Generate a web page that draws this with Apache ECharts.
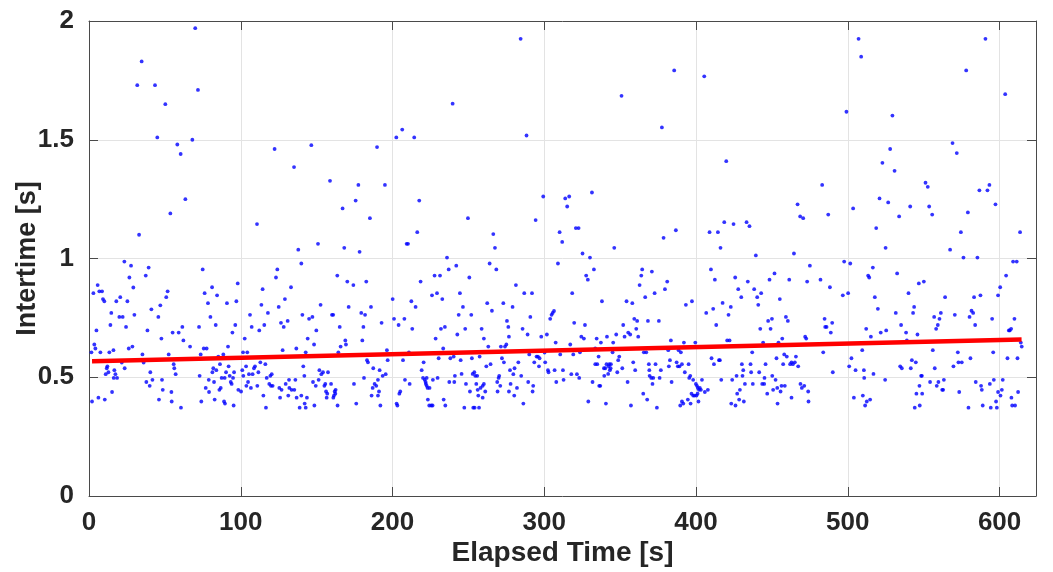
<!DOCTYPE html>
<html lang="en">
<head>
    <meta charset="UTF-8">
    <title>intertime</title>
    <script src="https://cdn.jsdelivr.net/npm/echarts@6/dist/echarts.min.js"></script>
    <style>
        html, body { margin: 0; padding: 0; background: #fff; }
    </style>
</head>
<body>
<div id="main" style="width: 1053px;height:572px;"></div>
</body>

<script type="text/javascript">

    // [elapsed time (s), intertime (s)], in bands of ~100 s
    var pts0to100 = [
        [70.0, 1.97], [34.7, 1.83], [31.8, 1.73], [43.5, 1.73], [71.8, 1.71], [50.3, 1.65], [45.0, 1.51], [68.1, 1.50],
        [58.2, 1.48], [60.4, 1.44], [63.5, 1.25], [53.6, 1.19], [33.0, 1.10],
        [23.3, 0.987], [27.7, 0.970], [39.3, 0.962], [26.6, 0.920], [37.4, 0.928], [5.7, 0.888], [2.9, 0.854], [6.8, 0.862],
        [8.6, 0.862], [29.2, 0.878], [9.2, 0.829], [10.1, 0.820], [20.6, 0.837], [18.0, 0.820], [25.3, 0.820], [51.8, 0.862],
        [50.9, 0.837], [47.0, 0.803], [41.1, 0.786], [14.7, 0.771], [29.9, 0.763], [20.0, 0.754], [22.2, 0.754], [45.7, 0.754],
        [14.1, 0.720], [24.4, 0.712], [4.9, 0.697], [38.5, 0.697], [55.1, 0.688], [59.1, 0.688], [61.5, 0.712], [47.7, 0.663],
        [62.2, 0.655], [3.5, 0.638], [66.6, 0.629], [4.2, 0.621], [26.2, 0.621], [28.6, 0.629], [1.6, 0.605], [7.5, 0.605],
        [13.4, 0.605], [16.1, 0.614], [35.2, 0.596], [52.5, 0.596], [36.0, 0.562], [21.6, 0.562], [11.7, 0.538], [12.1, 0.546],
        [16.7, 0.530], [12.8, 0.521], [11.0, 0.513], [17.4, 0.513], [23.5, 0.538], [16.3, 0.497], [18.5, 0.497], [40.4, 0.521],
        [41.8, 0.489], [37.8, 0.480], [40.0, 0.464], [48.1, 0.489], [48.6, 0.447], [55.8, 0.555], [56.2, 0.538], [57.1, 0.513],
        [54.3, 0.438], [54.5, 0.398], [46.1, 0.406], [60.6, 0.372], [15.2, 0.438], [6.2, 0.414], [10.4, 0.406], [2.0, 0.398],
        [74.9, 0.954], [76.2, 0.854], [81.1, 0.879], [84.4, 0.845], [78.4, 0.812], [90.9, 0.812], [98.0, 0.895], [97.1, 0.820],
        [80.0, 0.754], [83.5, 0.720], [96.4, 0.720], [94.5, 0.688], [72.5, 0.712], [75.6, 0.621], [77.5, 0.621], [91.6, 0.629],
        [88.5, 0.596], [85.2, 0.587], [73.6, 0.596], [86.3, 0.555], [92.0, 0.546], [81.9, 0.538], [83.9, 0.530], [81.3, 0.521],
        [90.3, 0.521], [95.6, 0.521], [72.9, 0.506], [78.9, 0.489], [87.4, 0.497], [89.4, 0.497], [92.7, 0.506], [93.4, 0.480],
        [94.0, 0.472], [94.9, 0.497], [82.4, 0.480], [76.9, 0.455], [79.1, 0.438], [82.8, 0.406], [85.9, 0.447], [86.8, 0.455],
        [89.0, 0.398], [89.6, 0.389], [95.3, 0.381], [74.0, 0.398], [98.4, 0.447]
    ];

    var pts100to200 = [
        [202.5, 1.51], [122.3, 1.461], [146.5, 1.477], [189.8, 1.469], [135.1, 1.385], [158.8, 1.327], [177.5, 1.31],
        [195.0, 1.31], [175.7, 1.244], [167.1, 1.211], [185.1, 1.17], [110.7, 1.145], [150.9, 1.062], [137.9, 1.037], [168.2, 1.045],
        [178.3, 1.028], [139.9, 0.979], [124.1, 0.954], [123.2, 0.920], [163.6, 0.928], [170.2, 0.903], [174.2, 0.888], [182.7, 0.903],
        [133.1, 0.879], [114.4, 0.871], [129.1, 0.829], [113.6, 0.805], [125.0, 0.796], [152.6, 0.805], [171.1, 0.796], [185.8, 0.796],
        [200.1, 0.829], [117.9, 0.771], [106.1, 0.763], [140.6, 0.763], [160.1, 0.763], [160.9, 0.763], [179.4, 0.771], [181.9, 0.763],
        [201.0, 0.746], [147.2, 0.754], [145.0, 0.746], [130.9, 0.737], [126.5, 0.729], [115.5, 0.720], [107.2, 0.712], [128.3, 0.712],
        [165.2, 0.712], [180.8, 0.712], [192.8, 0.729], [204.0, 0.720], [112.2, 0.697], [149.8, 0.697], [102.6, 0.663], [144.1, 0.663],
        [168.9, 0.655], [180.1, 0.655], [148.3, 0.638], [169.3, 0.638], [165.8, 0.629], [136.6, 0.621], [127.6, 0.614], [196.3, 0.614],
        [101.5, 0.605], [104.3, 0.605], [142.8, 0.605], [164.3, 0.605], [112.9, 0.563], [116.2, 0.555], [183.2, 0.572], [183.8, 0.563],
        [196.8, 0.572], [103.5, 0.546], [109.4, 0.546], [108.7, 0.538], [101.0, 0.530], [141.2, 0.546], [151.8, 0.530], [154.2, 0.521],
        [157.5, 0.521], [153.1, 0.513], [187.3, 0.538], [191.5, 0.530], [193.5, 0.506], [195.5, 0.513], [111.6, 0.521], [105.4, 0.513],
        [107.8, 0.513], [101.7, 0.506], [120.4, 0.513], [119.5, 0.506], [117.1, 0.497], [141.9, 0.506], [181.2, 0.497], [131.8, 0.489],
        [136.0, 0.489], [151.3, 0.489], [190.4, 0.489], [104.8, 0.480], [147.6, 0.480], [118.8, 0.472], [129.6, 0.472], [155.7, 0.472],
        [159.5, 0.472], [174.6, 0.472], [188.2, 0.472], [103.7, 0.464], [110.9, 0.464], [119.9, 0.464], [121.0, 0.464], [149.4, 0.464],
        [155.1, 0.464], [189.3, 0.464], [106.7, 0.455], [125.4, 0.455], [132.0, 0.455], [186.9, 0.455], [126.9, 0.447], [133.5, 0.447],
        [135.3, 0.447], [162.5, 0.447], [100.2, 0.440], [156.2, 0.440], [161.9, 0.440], [191.1, 0.440], [157.0, 0.431], [162.3, 0.431],
        [204.5, 0.431], [205.1, 0.440], [114.9, 0.423], [131.3, 0.423], [139.9, 0.423], [161.4, 0.423], [186.2, 0.423], [190.4, 0.423],
        [125.9, 0.414], [136.8, 0.414], [143.6, 0.414], [156.6, 0.414], [161.0, 0.414], [176.1, 0.389], [202.7, 0.389], [203.2, 0.381],
        [142.1, 0.389], [116.6, 0.372], [138.8, 0.372], [142.8, 0.372], [148.5, 0.381], [163.8, 0.381], [192.0, 0.381]
    ];

    var pts200to300 = [
        [284.4, 1.925], [239.6, 1.652], [206.4, 1.543], [214.3, 1.510], [288.3, 1.518], [299.3, 1.261], [217.6, 1.244],
        [249.7, 1.170], [294.3, 1.162], [216.3, 1.111], [209.3, 1.062], [210.2, 1.062], [266.4, 1.103], [267.5, 1.045], [310.1, 1.111],
        [235.9, 1.004], [242.0, 0.970], [264.0, 0.979], [268.4, 0.954], [237.0, 0.954], [227.7, 0.928], [231.3, 0.928], [250.6, 0.920],
        [218.5, 0.903], [281.3, 0.888], [244.4, 0.854], [286.8, 0.854], [291.9, 0.854], [226.0, 0.845], [229.3, 0.854], [232.8, 0.829],
        [212.4, 0.820], [262.4, 0.812], [273.0, 0.812], [215.2, 0.796], [246.4, 0.796], [279.1, 0.796], [265.5, 0.780], [243.6, 0.763],
        [251.9, 0.763], [290.8, 0.754], [207.8, 0.746], [275.4, 0.737], [276.3, 0.712], [234.5, 0.712], [231.9, 0.704], [213.0, 0.704],
        [247.9, 0.704], [258.7, 0.704], [285.7, 0.704], [242.7, 0.680], [289.0, 0.680], [276.7, 0.671], [298.0, 0.671], [301.7, 0.680],
        [306.4, 0.779], [305.5, 0.771], [304.8, 0.763], [303.9, 0.746], [309.0, 0.979], [228.4, 0.663], [260.2, 0.663], [307.5, 0.646],
        [263.1, 0.629], [271.4, 0.629], [274.1, 0.629], [275.0, 0.638], [233.4, 0.621], [210.8, 0.605], [240.3, 0.587], [230.4, 0.580],
        [238.1, 0.580], [252.3, 0.580], [257.4, 0.587], [244.9, 0.572], [272.1, 0.580], [273.4, 0.563], [290.1, 0.596], [294.9, 0.587],
        [295.8, 0.587], [296.9, 0.580], [300.2, 0.604], [300.6, 0.563], [293.4, 0.563], [282.9, 0.563], [206.9, 0.572], [220.5, 0.563],
        [264.6, 0.555], [261.8, 0.546], [280.4, 0.538], [277.4, 0.530], [219.2, 0.530], [296.5, 0.546], [302.4, 0.530], [302.8, 0.521],
        [306.8, 0.530], [253.9, 0.521], [252.8, 0.514], [254.5, 0.506], [255.8, 0.506], [245.5, 0.514], [241.1, 0.506], [279.6, 0.513],
        [284.8, 0.506], [270.3, 0.506], [269.9, 0.497], [220.1, 0.497], [222.5, 0.497], [229.7, 0.497], [208.2, 0.489], [221.2, 0.489],
        [226.6, 0.489], [221.8, 0.480], [237.4, 0.480], [240.7, 0.480], [269.0, 0.480], [259.4, 0.464], [260.2, 0.472], [255.2, 0.472],
        [248.4, 0.472], [277.8, 0.472], [289.4, 0.480], [292.7, 0.464], [307.9, 0.480], [211.3, 0.472], [222.0, 0.472], [222.5, 0.464],
        [223.1, 0.455], [224.4, 0.455], [258.0, 0.455], [271.0, 0.464], [282.0, 0.455], [256.1, 0.447], [261.1, 0.440], [269.2, 0.440],
        [292.3, 0.440], [251.0, 0.440], [276.7, 0.440], [256.5, 0.423], [280.2, 0.423], [259.4, 0.414], [223.3, 0.406], [233.7, 0.406],
        [286.2, 0.389], [224.2, 0.381], [225.5, 0.381], [226.4, 0.381], [234.8, 0.381], [247.3, 0.372], [253.2, 0.372], [254.1, 0.372],
        [257.0, 0.372], [310.5, 0.596]
    ];

    var pts300to400 = [
        [385.6, 1.792], [405.4, 1.767], [350.9, 1.685], [377.5, 1.552], [331.4, 1.278], [313.8, 1.253], [316.4, 1.261],
        [315.1, 1.219], [320.8, 1.128], [322.6, 1.128], [311.8, 1.070], [386.7, 1.119], [378.6, 1.087], [346.1, 1.045],
        [408.9, 1.111], [414.4, 1.111],
        [325.2, 1.021], [330.1, 1.004], [332.7, 0.954], [327.6, 0.928], [328.7, 0.911], [364.5, 0.954], [370.9, 0.945], [363.9, 0.928],
        [381.0, 0.903], [362.8, 0.888], [379.5, 0.871], [318.4, 0.854], [372.7, 0.854], [366.5, 0.837], [338.0, 0.820], [354.2, 0.820],
        [358.0, 0.812], [397.3, 0.820], [393.3, 0.805], [409.8, 0.954], [412.4, 0.911], [411.3, 0.788], [406.7, 0.771], [413.3, 0.720],
        [415.1, 0.572], [410.2, 0.580], [411.8, 0.555], [407.8, 0.447], [405.8, 0.438], [403.9, 0.489],
        [319.7, 0.729], [326.8, 0.720], [359.3, 0.746], [361.2, 0.737], [368.3, 0.737], [375.5, 0.737], [352.0, 0.720], [360.6, 0.704],
        [355.3, 0.688], [356.6, 0.680], [352.9, 0.671], [347.4, 0.680], [361.9, 0.671], [341.3, 0.671], [324.4, 0.671], [326.1, 0.663],
        [334.5, 0.663], [337.3, 0.646], [345.4, 0.646], [383.4, 0.655], [392.0, 0.646], [399.5, 0.646], [317.1, 0.638], [333.6, 0.622],
        [323.5, 0.605], [319.1, 0.596], [345.0, 0.605], [365.6, 0.605], [367.2, 0.605], [381.7, 0.614], [388.5, 0.614], [390.0, 0.605],
        [349.4, 0.587], [335.8, 0.587], [348.7, 0.572], [358.6, 0.563], [382.8, 0.572], [368.9, 0.555], [373.3, 0.555], [387.2, 0.563],
        [390.7, 0.555], [395.1, 0.555], [333.6, 0.555], [334.9, 0.555], [341.0, 0.555], [342.8, 0.555], [343.9, 0.555], [339.3, 0.538],
        [340.2, 0.538], [342.4, 0.546], [343.7, 0.538], [382.1, 0.546], [388.0, 0.546], [389.1, 0.546], [351.4, 0.538], [343.2, 0.530],
        [359.9, 0.530], [369.2, 0.530], [376.8, 0.530], [312.3, 0.530], [348.1, 0.521], [392.6, 0.521], [342.1, 0.514], [317.8, 0.513],
        [321.5, 0.513], [339.5, 0.506], [369.4, 0.506], [370.5, 0.497], [371.8, 0.497], [376.0, 0.497], [395.5, 0.497], [396.2, 0.506],
        [312.7, 0.489], [323.0, 0.497], [398.1, 0.489], [331.8, 0.480], [354.9, 0.480], [383.9, 0.480], [371.3, 0.472], [399.9, 0.472],
        [400.6, 0.464], [401.2, 0.455], [402.5, 0.455], [401.9, 0.447], [403.2, 0.447], [336.2, 0.464], [336.9, 0.464], [365.2, 0.431],
        [397.0, 0.431], [398.1, 0.423], [399.0, 0.423], [400.3, 0.423], [401.0, 0.431], [367.8, 0.406], [394.6, 0.406], [401.6, 0.398],
        [390.7, 0.398], [391.6, 0.389], [396.4, 0.389], [389.6, 0.381], [329.0, 0.398], [340.6, 0.389], [357.1, 0.381], [374.2, 0.372]
    ];

    var pts400to500 = [
        [507.1, 1.925], [508.8, 1.850], [499.1, 1.618], [419.9, 1.410], [483.1, 1.310], [466.9, 1.228], [503.5, 1.211],
        [468.6, 1.177], [470.6, 1.170], [487.1, 1.185], [418.6, 1.153], [424.7, 1.145], [433.3, 1.153], [435.2, 1.136], [416.1, 1.045],
        [439.4, 1.013], [464.5, 1.021], [497.6, 0.987], [501.6, 0.979], [475.0, 0.970], [513.4, 0.928], [514.1, 0.920], [425.8, 0.920],
        [451.7, 0.937], [448.4, 0.911], [434.1, 0.903], [461.4, 0.911], [473.2, 0.903], [482.0, 0.911], [488.2, 0.879], [427.8, 0.871],
        [438.3, 0.871], [442.9, 0.854], [440.3, 0.837], [429.8, 0.837], [496.7, 0.845], [500.2, 0.854], [417.5, 0.813], [422.9, 0.796],
        [441.0, 0.805], [455.2, 0.829], [421.4, 0.763], [459.2, 0.754], [460.5, 0.737], [447.5, 0.737], [450.0, 0.746], [484.7, 0.746],
        [489.7, 0.729], [485.1, 0.712], [486.0, 0.712], [488.8, 0.688], [442.3, 0.704], [449.1, 0.704], [512.1, 0.704], [471.9, 0.671],
        [472.6, 0.663], [456.8, 0.663], [420.5, 0.655], [422.1, 0.655], [444.2, 0.646], [454.3, 0.646], [437.0, 0.605], [483.8, 0.605],
        [509.5, 0.614], [415.7, 0.572], [453.0, 0.580], [458.1, 0.596], [459.8, 0.587], [465.8, 0.587], [462.9, 0.563], [462.0, 0.555],
        [463.8, 0.555], [465.1, 0.563], [467.3, 0.546], [457.4, 0.555], [445.8, 0.555], [430.2, 0.555], [435.9, 0.555], [502.4, 0.580],
        [500.9, 0.546], [431.1, 0.530], [505.1, 0.530], [510.6, 0.530], [436.3, 0.521], [441.6, 0.521], [450.2, 0.506], [490.1, 0.521],
        [426.7, 0.506], [430.6, 0.506], [445.1, 0.497], [510.8, 0.497], [416.6, 0.489], [423.8, 0.489], [452.4, 0.489], [432.2, 0.472],
        [437.4, 0.472], [443.6, 0.472], [444.9, 0.472], [468.8, 0.472], [456.3, 0.464], [458.5, 0.464], [453.5, 0.455], [469.7, 0.455],
        [471.3, 0.464], [450.8, 0.447], [428.9, 0.447], [446.9, 0.431], [455.7, 0.440], [473.9, 0.440], [427.1, 0.431], [462.9, 0.414],
        [428.4, 0.406], [431.5, 0.398], [474.1, 0.398], [504.0, 0.414], [509.9, 0.423], [512.5, 0.398], [511.4, 0.381], [423.2, 0.389],
        [426.0, 0.381], [453.7, 0.389]
    ];

    var pts500to615 = [
        [590.7, 1.925], [578.0, 1.792], [603.7, 1.692], [529.4, 1.602], [569.0, 1.486], [527.9, 1.461], [571.8, 1.444],
        [522.8, 1.403], [530.8, 1.369], [551.2, 1.319], [552.7, 1.302], [593.3, 1.310], [586.7, 1.287], [592.0, 1.287], [520.9, 1.253],
        [526.6, 1.236], [541.1, 1.219], [553.6, 1.219], [597.3, 1.228], [533.8, 1.177], [555.6, 1.185], [579.1, 1.194], [518.7, 1.128],
        [574.5, 1.111], [613.5, 1.111], [524.9, 1.045], [567.4, 1.037],
        [576.2, 1.004], [585.4, 1.004], [608.9, 0.987], [611.3, 0.987], [516.5, 0.962], [532.5, 0.937], [604.3, 0.928], [546.8, 0.895],
        [550.1, 0.903], [600.4, 0.879], [540.0, 0.854], [564.1, 0.837], [583.2, 0.837], [587.4, 0.845], [599.0, 0.845], [517.8, 0.837],
        [543.7, 0.796], [519.8, 0.788], [531.6, 0.771], [543.0, 0.771], [561.3, 0.771], [581.5, 0.780], [582.6, 0.771], [570.5, 0.763],
        [556.9, 0.754], [580.2, 0.754], [560.4, 0.746], [595.1, 0.746], [609.8, 0.746], [535.1, 0.720], [559.3, 0.720], [583.9, 0.720],
        [558.2, 0.704], [606.1, 0.697], [606.7, 0.697], [607.6, 0.704], [521.7, 0.688], [525.3, 0.697], [538.4, 0.688], [545.9, 0.680],
        [515.2, 0.671], [538.9, 0.655], [556.0, 0.614], [572.5, 0.605], [595.8, 0.605], [614.0, 0.646], [614.6, 0.629], [542.2, 0.572],
        [544.8, 0.563], [572.9, 0.563], [575.1, 0.563], [580.8, 0.580], [605.2, 0.580], [611.8, 0.580], [534.5, 0.546], [535.6, 0.538],
        [541.5, 0.538], [557.3, 0.538], [569.6, 0.546], [516.9, 0.514], [548.3, 0.506], [548.8, 0.506], [524.6, 0.489], [563.3, 0.489],
        [596.2, 0.489], [602.1, 0.489], [554.2, 0.480], [559.7, 0.480], [584.3, 0.480], [587.8, 0.464], [593.6, 0.472], [558.6, 0.464],
        [547.2, 0.464], [562.2, 0.447], [562.8, 0.447], [588.3, 0.447], [601.5, 0.447], [599.0, 0.438], [573.4, 0.438], [545.2, 0.431],
        [549.0, 0.431], [612.2, 0.438], [600.6, 0.423], [607.8, 0.414], [514.7, 0.406], [597.7, 0.398], [547.4, 0.381], [544.1, 0.372],
        [579.5, 0.372], [588.9, 0.381], [594.2, 0.372], [598.2, 0.372], [608.3, 0.381], [610.2, 0.381]
    ];

    // least-squares trend line, end points
    var fitTime = [2, 614.5];
    var fitInter = [0.567, 0.659];

    var xTicks = [0, 100, 200, 300, 400, 500, 600];

    var scatterData = pts0to100.concat(pts100to200, pts200to300, pts300to400, pts400to500, pts500to615);
    var fitData = [[fitTime[0], fitInter[0]], [fitTime[1], fitInter[1]]];

    var font = 'Liberation Sans';
    var boxColor = '#4a4a4a';
    var txtColor = '#262626';

    var boxAxis = function (extra) {
        var a = {
            type: 'value',
            axisLine: {show: true, onZero: false, lineStyle: {color: boxColor, width: 1}},
            axisTick: {show: true, inside: true, length: 9, lineStyle: {color: boxColor, width: 1}},
            splitLine: {show: false},
            axisLabel: {show: false}
        };
        for (var k in extra) a[k] = extra[k];
        return a;
    };

    var option = {
        animation: false,
        backgroundColor: '#ffffff',
        grid: {left: 89, right: 17, top: 21, bottom: 76, containLabel: false, outerBoundsMode: 'none'},
        xAxis: [
            boxAxis({
                position: 'bottom', min: 0, max: 624, interval: 100,
                splitLine: {show: true, lineStyle: {color: '#e3e3e3', width: 1}},
                axisLabel: {
                    show: true, margin: 14, color: txtColor, fontFamily: font, fontWeight: 'bold', fontSize: 26,
                    formatter: function (v) { return xTicks.indexOf(v) >= 0 ? String(v) : ''; }
                },
                name: 'Elapsed Time [s]', nameLocation: 'middle', nameGap: 43, nameMoveOverlap: false,
                nameTextStyle: {color: txtColor, fontFamily: font, fontWeight: 'bold', fontSize: 28}
            }),
            boxAxis({position: 'top', min: 0, max: 624, interval: 100})
        ],
        yAxis: [
            boxAxis({
                position: 'left', min: 0, max: 2, interval: 0.5,
                splitLine: {show: true, lineStyle: {color: '#e3e3e3', width: 1}},
                axisLabel: {show: true, margin: 15, color: txtColor, fontFamily: font, fontWeight: 'bold', fontSize: 26},
                name: 'Intertime [s]', nameLocation: 'middle', nameGap: 48, nameMoveOverlap: false,
                nameTextStyle: {color: txtColor, fontFamily: font, fontWeight: 'bold', fontSize: 27}
            }),
            boxAxis({position: 'right', min: 0, max: 2, interval: 0.5})
        ],
        series: [
            {
                name: 'samples',
                type: 'scatter',
                data: scatterData,
                symbol: 'circle',
                symbolSize: 3.8,
                itemStyle: {color: '#0000ff'},
                z: 2
            },
            {
                name: 'fit',
                type: 'line',
                data: fitData,
                symbol: 'none',
                lineStyle: {color: '#ff0000', width: 4.5},
                z: 3
            }
        ]
    };

    var myChart = echarts.init(document.getElementById('main'));
    myChart.setOption(option);

</script>
</html>
